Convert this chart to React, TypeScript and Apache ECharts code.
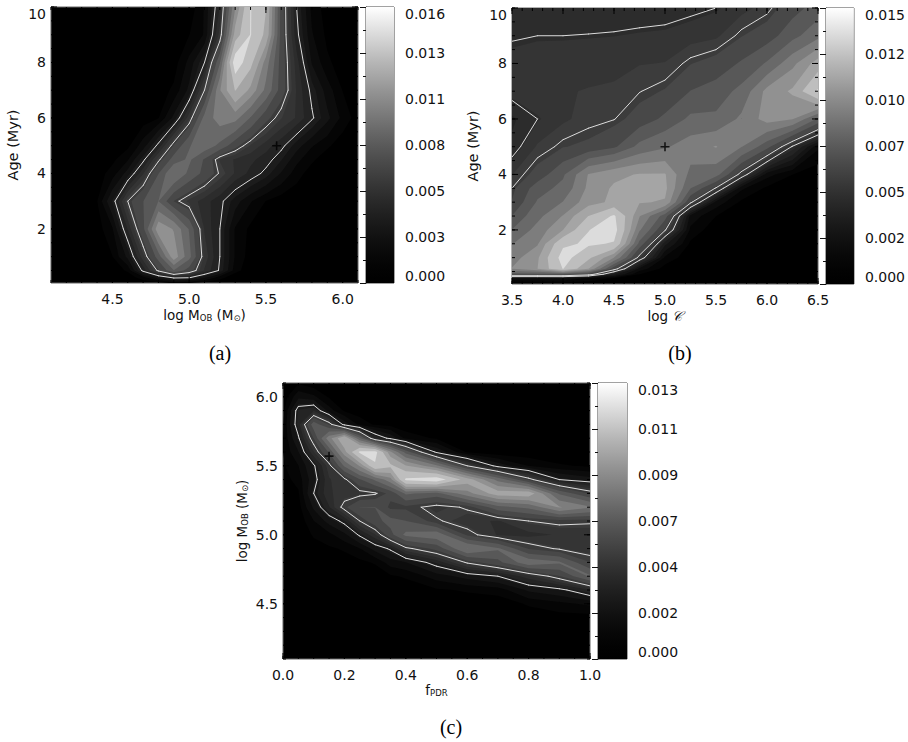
import React, { useEffect, useRef } from "react";
import * as echarts from "echarts";

const xsA = [4.1,4.2,4.3,4.4,4.5,4.6,4.7,4.8,4.9,5.0,5.1,5.2,5.3,5.4,5.5,5.6,5.7,5.8,5.9,6.0,6.1];
const ysA = [10,9,8,7,6,5,4.5,4,3,2,1,0.5,0.25,0.05];
const toneA = [
  [0,0,0,0,0,0,0,0,0,0,.8,2.8,9,13.9,12,5,2.2,.6,.1,0,0],
  [0,0,0,0,0,0,0,0,.1,.3,.8,3.5,11,13.9,11.5,5,2.4,.8,.2,0,0],
  [0,0,0,0,0,0,0,0,.1,.9,2.2,6.5,15.1,12.5,8.5,5,3,1.2,.4,.1,0],
  [0,0,0,0,0,0,0,.1,.4,1.4,4.2,9,12,10,7.5,5,3.2,2,1,.3,.05],
  [0,0,0,0,0,0,.05,.3,1.4,3.6,7,8.5,8.3,6.5,4.8,3.8,3.2,2.3,1.4,.6,.1],
  [0,0,0,0,0,.2,1,2.4,4.6,6.5,7.3,6.3,4.8,3.7,3,2.4,1.5,.8,.4,.05,0],
  [0,0,0,0,.2,.7,2,4,6,6.8,5.4,3.7,3.2,2.9,2.5,1.8,.9,.4,.05,0,0],
  [0,0,0,.1,.5,1.5,3.2,5.5,7.8,6.3,5.2,4.1,3.2,2.6,2,1.2,.5,.1,0,0,0],
  [0,0,0,.3,1.8,4.2,5.5,6.6,4.5,3.6,3,2.4,1.5,.8,.3,.05,0,0,0,0,0],
  [0,0,0,.1,.7,2.8,5.2,10,9,6.5,3.2,2.2,.7,.2,0,0,0,0,0,0,0],
  [0,0,0,0,.3,1.4,3.6,6,9.9,7,3.6,2.2,.7,.1,0,0,0,0,0,0,0],
  [0,0,0,0,0,.4,2.4,4.4,6.5,5,3.2,2.1,.5,0,0,0,0,0,0,0,0],
  [0,0,0,0,0,0,.6,1.5,2.4,2.3,1.4,.5,0,0,0,0,0,0,0,0,0],
  [0,0,0,0,0,0,0,.1,.4,.3,.1,0,0,0,0,0,0,0,0,0,0],
];

const xsB = [3.5,3.75,4,4.25,4.5,4.75,5,5.25,5.5,5.75,6,6.25,6.5];
const ysB = [10,9,8,7,6,5,4,3.5,3,2.5,2,1.5,1,0.6,0.4,0.25,0.05];
const toneBColumns = [
  [2.6,2.95,3.2,3.25,2.5,2.7,3.5,4,4.3,5.2,6.2,7.3,8,8.6,5.5,1,.05],
  [2.6,3,3.3,3.4,3,3.6,4.6,5.7,6.3,7,7.8,8.4,9.5,9.7,5.5,1,.05],
  [2.6,3,3.35,3.5,3.4,4.2,6,6.5,7.4,8.6,9.7,12.6,13.7,13,5.5,1.1,.05],
  [2.7,3.02,3.4,3.55,3.8,4.4,8.6,8.8,9.2,11.2,12.9,13.2,11.5,9.7,4.6,.6,0],
  [2.7,3.05,3.4,3.6,3.97,5,9.4,9.9,10,13.2,13.7,12.8,8.5,4.5,1.8,.2,0],
  [2.75,3.1,3.5,3.97,4.6,6.5,9.8,10,9.8,8.6,7.5,5.8,3.6,1,.3,0,0],
  [2.8,3.13,3.55,4.3,5.4,7.2,9.8,10,9.6,5.6,4.1,1.8,.6,.1,0,0,0],
  [2.9,3.23,4.2,5.2,6.4,8,7,6.2,4.2,1,.6,.2,0,0,0,0,0],
  [3,3.4,4.6,5.6,6.4,8.6,6.6,3.9,1,.3,0,0,0,0,0,0,0],
  [3.3,4.2,5.3,6.5,7.6,7.4,3.6,.8,.2,0,0,0,0,0,0,0,0],
  [3.8,4.7,6.3,8.9,9,5.5,.9,.2,0,0,0,0,0,0,0,0,0],
  [4.8,5.8,8.2,9.9,8.6,2.9,.3,0,0,0,0,0,0,0,0,0,0],
  [5.6,7,10.3,13.2,6,.8,0,0,0,0,0,0,0,0,0,0,0],
];

const xsC = [0,0.05,0.1,0.15,0.2,0.25,0.3,0.35,0.4,0.5,0.6,0.7,0.8,0.9,1];
const ysC = [6.1,6,5.9,5.8,5.7,5.6,5.5,5.4,5.3,5.2,5.1,5,4.9,4.8,4.7,4.6,4.5,4.4,4.3,4.2,4.1];
const toneCColumns = [
  [0,0,.1,.2,.25,.25,.2,.1,.05,0,0,0,0,0,0,0,0,0,0,0,0],
  [.2,.9,1.9,2,1.5,1,.6,.4,.2,.1,0,0,0,0,0,0,0,0,0,0,0],
  [0,.7,2.2,5,3.7,2.6,1.5,1.3,1.6,1.1,.6,.3,.1,0,0,0,0,0,0,0,0],
  [0,.2,.8,3.6,7,4.6,2.9,2.6,2.6,2.2,1.2,.5,.2,0,0,0,0,0,0,0,0],
  [0,0,.2,1.3,9.5,8,5.5,3,2.8,3.5,1.8,.9,.3,.1,0,0,0,0,0,0,0],
  [0,0,.05,.5,5.5,11.5,7.5,4.4,2.9,4.5,3.2,1.7,.6,.15,0,0,0,0,0,0,0],
  [0,0,0,.2,2.2,11.8,11,5.5,3.1,4.5,4.2,2.6,1.2,.3,0,0,0,0,0,0,0],
  [0,0,0,.1,1.4,7.6,10,7,3.9,3.5,4.8,4.2,1.7,.8,.2,0,0,0,0,0,0],
  [0,0,0,0,.5,5,8.5,11.5,5.5,3.5,4.5,5.6,3,1,.3,.05,0,0,0,0,0],
  [0,0,0,0,.2,1.4,6.6,12.2,5,2.9,3.3,6,3.9,1.9,.8,.2,0,0,0,0,0],
  [0,0,0,0,0,.2,3.2,9,7,3.3,2.8,3.5,6.4,3.3,1.2,.3,.05,0,0,0,0],
  [0,0,0,0,0,0,1.3,6,9,5,2.6,2.6,5.5,4.2,1.6,.4,.05,0,0,0,0],
  [0,0,0,0,0,0,.6,3.5,9.2,5.6,3.2,2.5,3.6,6,2.5,1.1,.3,.05,0,0,0],
  [0,0,0,0,0,0,.3,1.6,5.2,7.5,3.4,2.7,3.1,5.5,3.6,1.4,.5,.1,0,0,0],
  [0,0,0,0,0,0,.2,1.2,3.6,6.5,3.3,2.8,2.7,3.7,5.5,2.2,.7,.1,0,0,0],
];

const colorTicksA = ["0.000","0.003","0.005","0.008","0.011","0.013","0.016"];
const colorTicksB = ["0.000","0.002","0.005","0.007","0.010","0.012","0.015"];
const colorTicksC = ["0.000","0.002","0.004","0.007","0.009","0.011","0.013"];
const bandGrays = [5,12,20,28,36,44,52,60,72,88,105,125,145,165,190,220,242];

const FONT = "DejaVu Sans";
const GRAY_POWER = 1.5;

echarts.graphic.registerShape(
  "contourShape",
  echarts.graphic.extendShape({
    type: "contourShape",
    shape: { polys: [], closed: true },
    buildPath(ctx: any, shape: any) {
      for (const p of shape.polys) {
        ctx.moveTo(p[0][0], p[0][1]);
        for (let i = 1; i < p.length; i++) ctx.lineTo(p[i][0], p[i][1]);
        if (shape.closed) ctx.closePath();
      }
    },
  }) as any
);

type C = [number, number, number];
const cross = (p: C, q: C, t: number): C => {
  const f = (t - p[2]) / (q[2] - p[2]);
  return [p[0] + f * (q[0] - p[0]), p[1] + f * (q[1] - p[1]), t];
};
function cells(xs: number[], ys: number[], z: number[][], fn: (c: C[]) => void) {
  for (let j = 0; j < ys.length - 1; j++)
    for (let i = 0; i < xs.length - 1; i++)
      fn([
        [xs[i], ys[j], z[j][i]],
        [xs[i + 1], ys[j], z[j][i + 1]],
        [xs[i + 1], ys[j + 1], z[j + 1][i + 1]],
        [xs[i], ys[j + 1], z[j + 1][i]],
      ]);
}
function band(xs: number[], ys: number[], z: number[][], t: number) {
  const out: number[][][] = [];
  cells(xs, ys, z, (c) => {
    const poly: number[][] = [];
    c.forEach((p, k) => {
      const q = c[(k + 1) % 4];
      if (p[2] >= t) poly.push([p[0], p[1]]);
      if (p[2] >= t !== q[2] >= t) {
        const m = cross(p, q, t);
        poly.push([m[0], m[1]]);
      }
    });
    if (poly.length >= 3) out.push(poly);
  });
  return out;
}
function contour(xs: number[], ys: number[], z: number[][], t: number) {
  const out: number[][][] = [];
  cells(xs, ys, z, (c) => {
    const pts: number[][] = [];
    c.forEach((p, k) => {
      const q = c[(k + 1) % 4];
      if (p[2] >= t !== q[2] >= t) {
        const m = cross(p, q, t);
        pts.push([m[0], m[1]]);
      }
    });
    if (pts.length >= 2) out.push([pts[0], pts[1]]);
    if (pts.length === 4) out.push([pts[2], pts[3]]);
  });
  return out;
}
const steps = (a: number, b: number, s: number) => {
  const r: number[] = [];
  for (let v = a; v <= b + s / 100; v += s) r.push(Math.round(v * 1000) / 1000);
  return r;
};

const rows = (cols: number[][], n: number) =>
  Array.from({ length: n }, (_, r) => cols.map((c) => c[r]));

const panels = [
  {
    xs: xsA, ys: ysA, z: toneA, max: 16, contours: [2.2, 4.2], mark: [5.57, 5],
    rect: { left: 51, top: 7, width: 307, height: 276 },
    bar: { left: 366, top: 7, width: 28, height: 276 },
    xRange: [4.1, 6.1], yRange: [0.05, 10],
    xMajor: [4.5, 5, 5.5, 6], xMinor: steps(4.1, 6.1, 0.1),
    yMajor: [2, 4, 6, 8, 10], yMinor: steps(0.5, 10, 0.5),
    xFmt: 1, yFmt: 0, colorTicks: colorTicksA,
    xName: "{t|log M}{s|OB}{t| (M}{s|⊙}{t|)}", yName: "Age (Myr)", yGap: 31, xGap: 25,
  },
  {
    xs: xsB, ys: ysB, z: rows(toneBColumns, ysB.length), max: 15, contours: [3, 4], mark: [5, 5],
    rect: { left: 512, top: 8, width: 306, height: 276 },
    bar: { left: 826, top: 8, width: 28, height: 276 },
    xRange: [3.5, 6.5], yRange: [0.05, 10],
    xMajor: steps(3.5, 6.5, 0.5), xMinor: steps(3.5, 6.5, 0.1),
    yMajor: [2, 4, 6, 8, 10], yMinor: steps(0.5, 10, 0.5),
    xFmt: 1, yFmt: 0, colorTicks: colorTicksB,
    xName: "{t|log }{c|𝒞}", yName: "Age (Myr)", yGap: 32, xGap: 25,
  },
  {
    xs: xsC, ys: ysC, z: rows(toneCColumns, ysC.length), max: 13, contours: [1.6, 3.2], mark: [0.15, 5.57],
    rect: { left: 283, top: 383, width: 307, height: 276 },
    bar: { left: 598, top: 383, width: 29, height: 276 },
    xRange: [0, 1], yRange: [4.1, 6.1],
    xMajor: steps(0, 1, 0.2), xMinor: steps(0, 1, 0.05),
    yMajor: [4.5, 5, 5.5, 6], yMinor: steps(4.1, 6.1, 0.1),
    xFmt: 1, yFmt: 1, colorTicks: colorTicksC,
    xName: "{t|f}{s|PDR}", yName: "{t|log M}{s|OB}{t| (M}{s|⊙}{t|)}", yGap: 34, xGap: 24,
  },
];

const rich = {
  t: { fontFamily: FONT, fontSize: 13.5, color: "#111", lineHeight: 14, verticalAlign: "middle" },
  s: { fontFamily: FONT, fontSize: 8.5, color: "#111", lineHeight: 8, verticalAlign: "bottom" },
  c: { fontFamily: "DejaVu Serif", fontStyle: "italic", fontSize: 14, color: "#111", lineHeight: 14, verticalAlign: "middle" },
};
const labelStyle = { fontFamily: FONT, fontSize: 14, color: "#111" };
const gray = (v: number) => {
  const g = Math.min(255, Math.round(255 * v));
  return `rgb(${g},${g},${g})`;
};

function buildOption() {
  const grid: any[] = [], xAxis: any[] = [], yAxis: any[] = [], series: any[] = [];
  panels.forEach((p, n) => {
    const main = n * 2, bar = n * 2 + 1;
    grid.push({ ...p.rect, show: true, backgroundColor: "#000", borderColor: "#666", borderWidth: 1, containLabel: false });
    grid.push({ ...p.bar, show: true, backgroundColor: "#000", borderColor: "#444", borderWidth: 1, containLabel: false });
    xAxis.push({
      gridIndex: main, type: "value", min: p.xRange[0], max: p.xRange[1], position: "bottom",
      axisLine: { show: false }, axisTick: { show: false }, splitLine: { show: false },
      axisLabel: { ...labelStyle, margin: 9, customValues: p.xMajor, formatter: (v: number) => v.toFixed(p.xFmt) },
      name: p.xName, nameLocation: "middle", nameGap: p.xGap, nameTextStyle: { rich },
    });
    yAxis.push({
      gridIndex: main, type: "value", min: p.yRange[0], max: p.yRange[1], position: "left",
      axisLine: { show: false }, axisTick: { show: false }, splitLine: { show: false },
      axisLabel: { ...labelStyle, margin: 5, customValues: p.yMajor, formatter: (v: number) => v.toFixed(p.yFmt), verticalAlignMaxLabel: p.yRange[1] === 10 ? "top" : undefined },
      name: p.yName, nameLocation: "middle", nameRotate: 90, nameGap: p.yGap, nameTextStyle: { ...labelStyle, fontSize: 14.5, rich },
    });
    xAxis.push({ gridIndex: bar, type: "value", min: 0, max: 1, show: false });
    const step = p.max / 1000 / 6;
    yAxis.push({
      gridIndex: bar, type: "value", min: 0, max: p.max / 1000, interval: step, position: "right",
      axisLine: { show: true, lineStyle: { color: "#444", width: 1 } },
      axisTick: { show: true, inside: true, length: 6, lineStyle: { color: "#111" } },
      minorTick: { show: true, splitNumber: 2, length: 3, lineStyle: { color: "#111" } },
      splitLine: { show: false },
      axisLabel: {
        ...labelStyle, margin: 11,
        formatter: (v: number) => p.colorTicks[Math.round(v / step)],
        verticalAlignMaxLabel: "top", verticalAlignMinLabel: "bottom",
      },
    });

    const layers: { polys: number[][][]; closed: boolean; style: any }[] = [];
    bandGrays.forEach((g) => {
      const t = (p.max * g) / 255;
      layers.push({ polys: band(p.xs, p.ys, p.z, t), closed: true, style: { fill: `rgb(${g},${g},${g})` } });
    });
    p.contours.forEach((t) =>
      layers.push({
        polys: contour(p.xs, p.ys, p.z, t), closed: false,
        style: { fill: "none", stroke: "#dcdcdc", lineWidth: 1, lineCap: "round" },
      })
    );
    series.push({
      type: "custom", xAxisIndex: main, yAxisIndex: main, clip: true, silent: true, z: 2,
      data: layers.map((_, i) => [i]),
      encode: { x: -1, y: -1 },
      renderItem: (params: any, api: any) => {
        const l = layers[params.dataIndex];
        return {
          type: "contourShape", silent: true,
          shape: { closed: l.closed, polys: l.polys.map((q) => q.map((v) => api.coord(v))) },
          style: l.style,
        };
      },
    });
    series.push({
      type: "scatter", xAxisIndex: main, yAxisIndex: main, z: 4, silent: true,
      data: [p.mark], symbol: "path://M3.7 0h1.6v9h-1.6zM0 3.7h9v1.6H0z", symbolSize: 9,
      itemStyle: { color: "#000" },
    });
    series.push({
      type: "custom", xAxisIndex: main, yAxisIndex: main, clip: false, silent: true, z: 5,
      data: [[0]], encode: { x: -1, y: -1 },
      renderItem: (_: any, api: any) => {
        const segs: number[][][] = [];
        const [x0, y0] = [p.xRange[0], p.yRange[0]], [x1, y1] = [p.xRange[1], p.yRange[1]];
        const xt = (v: number, len: number) => {
          const a = api.coord([v, y0]), b = api.coord([v, y1]);
          segs.push([a, [a[0], a[1] - len]], [b, [b[0], b[1] + len]]);
        };
        const yt = (v: number, len: number) => {
          const a = api.coord([x0, v]), b = api.coord([x1, v]);
          segs.push([a, [a[0] + len, a[1]]], [b, [b[0] - len, b[1]]]);
        };
        p.xMinor.forEach((v) => xt(v, 3));
        p.xMajor.forEach((v) => xt(v, 6));
        p.yMinor.forEach((v) => yt(v, 3));
        p.yMajor.forEach((v) => yt(v, 6));
        return {
          type: "contourShape", silent: true,
          shape: { closed: false, polys: segs },
          style: { fill: "none", stroke: "#000", lineWidth: 1 },
        };
      },
    });
    series.push({
      type: "custom", xAxisIndex: bar, yAxisIndex: bar, clip: false, silent: true, z: 2,
      data: [[0]], encode: { x: -1, y: -1 },
      renderItem: (_: any, api: any) => {
        const a = api.coord([0, 0]), b = api.coord([1, p.max / 1000]);
        const stops = Array.from({ length: 21 }, (_, k) => ({
          offset: 1 - k / 20, color: gray(Math.pow(k / 20, GRAY_POWER)),
        })).reverse();
        return {
          type: "rect", silent: true,
          shape: { x: a[0], y: b[1], width: b[0] - a[0], height: a[1] - b[1] },
          style: { fill: new echarts.graphic.LinearGradient(0, 0, 0, 1, stops) },
        };
      },
    });
  });
  const caption = (text: string, x: number, y: number) => ({
    type: "text", x, y,
    style: { text, fill: "#000", font: "20px 'Liberation Serif'", textAlign: "center", textVerticalAlign: "middle" },
  });
  return {
    animation: false, backgroundColor: "#fff",
    grid, xAxis, yAxis, series,
    graphic: [caption("(a)", 220, 353), caption("(b)", 680, 353), caption("(c)", 451, 727)],
  };
}

export default function App() {
  const ref = useRef<HTMLDivElement>(null);
  useEffect(() => {
    const chart = echarts.init(ref.current!, undefined, { renderer: "svg" });
    chart.setOption(buildOption() as any);
    return () => chart.dispose();
  }, []);
  return <div ref={ref} style={{ position: "absolute", left: 0, top: 0, width: 908, height: 742 }} />;
}
